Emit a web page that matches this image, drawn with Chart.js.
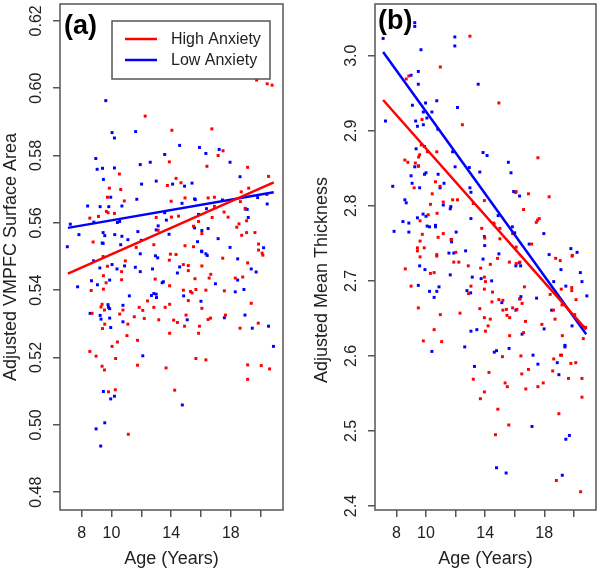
<!DOCTYPE html>
<html>
<head>
<meta charset="utf-8">
<script src="https://cdn.jsdelivr.net/npm/chart.js@4.4.1/dist/chart.umd.min.js"></script>
<style>
  body { margin: 0; background: #fff; }
  .panel { position: absolute; top: 0; width: 300px; height: 573px; }
</style>
</head>
<body>
<div class="panel" style="left:0"><canvas id="chA" width="300" height="573"></canvas></div>
<div class="panel" style="left:300px"><canvas id="chB" width="300" height="573"></canvas></div>
<script>
// axis ticks
var ageTicks = [8, 10, 12, 14, 16, 18, 20];
var ageLabels = [8, 10, 14, 18];
var areaTicks = [0.48, 0.50, 0.52, 0.54, 0.56, 0.58, 0.60, 0.62];
var thickTicks = [2.4, 2.5, 2.6, 2.7, 2.8, 2.9, 3.0];

// (a) VMPFC surface area
var highAgeA = [19.73, 20.44, 20.77, 12.26, 14.05, 13.88, 10.53, 9.86, 10.62, 13.75,
  9.73, 10.86, 14.0, 8.55, 9.13, 9.66, 9.77, 10.2, 13.0, 8.77,
  11.66, 12.84, 13.13, 16.73, 17.15, 17.48, 16.4, 19.13, 20.53, 14.33,
  14.66, 14.93, 16.48, 16.9, 18.7, 19.2, 18.64, 18.97, 20.42, 16.9,
  17.55, 16.75, 17.82, 14.5, 14.02, 15.84, 15.5, 16.06, 18.4, 19.06,
  18.55, 18.73, 19.06, 19.62, 14.93, 15.5, 19.86, 19.86, 9.44, 10.93,
  9.73, 10.68, 9.46, 9.64, 10.68, 8.64, 9.46, 12.93, 13.9, 8.7,
  9.37, 9.3, 9.53, 10.55, 10.77, 11.86, 12.1, 12.42, 12.84, 13.6,
  13.9, 11.53, 12.2, 13.17, 9.55, 9.4, 11.1, 11.04, 11.75, 10.4,
  10.04, 8.55, 8.97, 10.28, 13.9, 9.37, 9.53, 11.75, 13.66, 9.8,
  10.26, 11.13, 13.95, 14.33, 13.88, 14.82, 15.15, 15.15, 16.06, 17.46,
  19.13, 20.1, 20.15, 15.6, 16.55, 16.66, 18.3, 18.8, 14.82, 15.3,
  15.4, 15.66, 16.33, 17.57, 15.15, 16.06, 19.37, 15.0, 14.17, 14.42,
  14.9, 15.9, 16.48, 16.64, 17.64, 18.62, 19.84, 15.84, 15.66, 16.33,
  19.13, 20.04, 20.6, 19.13, 14.24];
var highAreaA = [0.6024, 0.6013, 0.6009, 0.5917, 0.5875, 0.5781, 0.5745, 0.5703, 0.5699, 0.5711,
  0.5676, 0.5665, 0.5664, 0.5614, 0.5619, 0.5634, 0.5630, 0.5628, 0.5616, 0.5543,
  0.5527, 0.5535, 0.5578, 0.5879, 0.5800, 0.5814, 0.5768, 0.5765, 0.5738, 0.5732,
  0.5719, 0.5674, 0.5674, 0.5676, 0.5692, 0.5703, 0.5663, 0.5643, 0.5684, 0.5649,
  0.5632, 0.5616, 0.5617, 0.5620, 0.5617, 0.5604, 0.5590, 0.5568, 0.5587, 0.5606,
  0.5597, 0.5563, 0.5571, 0.5571, 0.5532, 0.5529, 0.5537, 0.5519, 0.5500, 0.5487,
  0.5471, 0.5455, 0.5443, 0.5422, 0.5431, 0.5399, 0.5403, 0.5433, 0.5413, 0.5331,
  0.5358, 0.5350, 0.5341, 0.5329, 0.5341, 0.5349, 0.5340, 0.5368, 0.5349, 0.5349,
  0.5358, 0.5321, 0.5316, 0.5312, 0.5299, 0.5286, 0.5299, 0.5265, 0.5251, 0.5246,
  0.5233, 0.5218, 0.5204, 0.5197, 0.5272, 0.5174, 0.5163, 0.5177, 0.5169, 0.5098,
  0.5104, 0.4972, 0.5507, 0.5506, 0.5489, 0.5476, 0.5473, 0.5458, 0.5472, 0.5495,
  0.5481, 0.5510, 0.5504, 0.5434, 0.5436, 0.5447, 0.5436, 0.5439, 0.5400, 0.5396,
  0.5392, 0.5402, 0.5400, 0.5398, 0.5369, 0.5346, 0.5361, 0.5326, 0.5311, 0.5304,
  0.5293, 0.5293, 0.5313, 0.5317, 0.5326, 0.5287, 0.5302, 0.5272, 0.5197, 0.5193,
  0.5178, 0.5176, 0.5166, 0.5135, 0.5103];
var lowAgeA = [9.62, 10.04, 10.2, 11.62, 8.95, 9.04, 9.4, 10.2, 11.93, 12.6,
  13.57, 9.46, 12.02, 13.0, 11.7, 9.95, 8.4, 9.24, 9.82, 10.7,
  7.24, 8.82, 10.4, 10.55, 13.57, 13.68, 7.82, 9.44, 9.55, 10.22,
  10.7, 11.1, 11.77, 13.0, 13.13, 13.86, 7.04, 9.38, 9.44, 10.62,
  12.0, 14.57, 15.9, 16.33, 17.22, 17.95, 18.62, 14.1, 14.9, 15.4,
  15.57, 15.62, 14.73, 16.37, 17.44, 18.97, 19.1, 19.8, 20.44, 19.17,
  15.84, 15.57, 16.06, 16.48, 17.15, 15.77, 17.95, 20.2, 16.04, 8.8,
  9.22, 10.04, 10.37, 10.88, 11.6, 11.93, 11.93, 12.75, 12.95, 13.1,
  7.73, 8.66, 9.06, 9.88, 11.2, 12.68, 12.84, 13.0, 13.02, 13.4,
  13.48, 9.77, 9.8, 9.88, 10.77, 8.57, 9.24, 9.3, 9.88, 10.77,
  9.95, 12.1, 9.46, 10.2, 9.95, 9.55, 8.97, 9.28, 16.06, 16.33,
  16.42, 18.46, 14.57, 14.42, 19.37, 19.7, 16.97, 18.46, 14.84, 16.0,
  18.3, 18.88, 15.08, 17.57, 18.95, 19.44, 20.53, 20.86, 14.75];
var lowAreaA = [0.5963, 0.5868, 0.5852, 0.5871, 0.5791, 0.5759, 0.5762, 0.5763, 0.5773, 0.5780,
  0.5803, 0.5729, 0.5715, 0.5724, 0.5670, 0.5676, 0.5650, 0.5648, 0.5648, 0.5650,
  0.5596, 0.5602, 0.5601, 0.5604, 0.5630, 0.5608, 0.5565, 0.5571, 0.5562, 0.5565,
  0.5560, 0.5550, 0.5574, 0.5579, 0.5591, 0.5566, 0.5529, 0.5540, 0.5539, 0.5535,
  0.5548, 0.5830, 0.5824, 0.5806, 0.5818, 0.5780, 0.5737, 0.5715, 0.5709, 0.5718,
  0.5671, 0.5669, 0.5658, 0.5642, 0.5668, 0.5641, 0.5640, 0.5675, 0.5656, 0.5616,
  0.5625, 0.5585, 0.5577, 0.5583, 0.5553, 0.5544, 0.5527, 0.5526, 0.5516, 0.5487,
  0.5466, 0.5476, 0.5463, 0.5472, 0.5468, 0.5508, 0.5455, 0.5463, 0.5502, 0.5496,
  0.5410, 0.5428, 0.5416, 0.5430, 0.5383, 0.5384, 0.5390, 0.5388, 0.5378, 0.5422,
  0.5425, 0.5357, 0.5349, 0.5345, 0.5355, 0.5331, 0.5325, 0.5314, 0.5317, 0.5306,
  0.5289, 0.5205, 0.5099, 0.5085, 0.5077, 0.5006, 0.4988, 0.4937, 0.5514, 0.5508,
  0.5503, 0.5493, 0.5469, 0.5451, 0.5463, 0.5454, 0.5419, 0.5430, 0.5383, 0.5367,
  0.5395, 0.5402, 0.5312, 0.5318, 0.5326, 0.5287, 0.5293, 0.5233, 0.5059];
// fitted lines (a), end points
var fitAgeA = [7.08, 20.88];
var highFitA = [0.5449, 0.5720];
var lowFitA = [0.5585, 0.5691];

// (b) mean thickness
var highAgeB = [12.97, 10.97, 8.66, 8.84, 9.73, 12.46, 9.68, 9.57, 9.5, 10.1,
  10.73, 8.57, 8.77, 9.28, 9.5, 9.2, 10.64, 10.95, 10.42, 11.17,
  11.8, 12.13, 13.2, 10.3, 10.15, 10.75, 9.6, 9.75, 11.17, 10.82,
  9.6, 11.73, 13.77, 9.42, 9.42, 9.88, 10.73, 12.02, 13.97, 14.93,
  17.57, 18.33, 16.93, 16.6, 16.1, 17.46, 17.55, 17.66, 13.95, 15.0,
  14.57, 15.86, 15.0, 16.1, 17.15, 19.9, 9.6, 10.73, 11.88, 12.22,
  8.6, 10.3, 10.55, 12.86, 13.7, 13.95, 14.02, 8.99, 13.04, 12.88,
  13.95, 9.48, 10.97, 12.3, 13.64, 13.95, 10.55, 14.02, 9.82, 11.06,
  13.2, 13.95, 13.68, 14.84, 15.64, 16.1, 16.35, 14.35, 14.5, 16.66,
  14.93, 15.2, 16.35, 16.5, 14.46, 15.2, 15.44, 15.86, 16.15, 15.48,
  15.66, 14.35, 14.2, 16.73, 17.84, 16.6, 15.66, 18.77, 19.08, 19.88,
  19.15, 19.86, 19.86, 20.15, 18.4, 18.62, 18.73, 19.2, 20.06, 20.62,
  20.8, 20.64, 19.22, 15.17, 16.42, 14.26, 16.48, 16.93, 18.64, 19.1,
  19.17, 19.8, 20.13, 18.57, 19.64, 20.55, 15.35, 15.5, 16.75, 17.57,
  17.93, 20.55, 14.86, 15.6, 14.7, 18.99, 18.82, 20.46];
var highThickB = [3.026, 2.985, 2.969, 2.973, 2.915, 2.908, 2.881, 2.868, 2.865, 2.872,
  2.872, 2.861, 2.858, 2.857, 2.853, 2.824, 2.832, 2.826, 2.816, 2.805,
  2.808, 2.808, 2.803, 2.802, 2.788, 2.790, 2.780, 2.762, 2.763, 2.758,
  2.753, 2.755, 2.770, 2.744, 2.740, 2.744, 2.735, 2.738, 2.757, 2.937,
  2.864, 2.812, 2.816, 2.795, 2.819, 2.778, 2.781, 2.783, 2.807, 2.770,
  2.777, 2.763, 2.756, 2.745, 2.749, 2.734, 2.732, 2.733, 2.725, 2.725,
  2.716, 2.710, 2.711, 2.720, 2.717, 2.705, 2.699, 2.693, 2.693, 2.683,
  2.689, 2.664, 2.655, 2.657, 2.663, 2.651, 2.635, 2.633, 2.620, 2.619,
  2.569, 2.552, 2.543, 2.730, 2.725, 2.723, 2.725, 2.722, 2.685, 2.692,
  2.675, 2.674, 2.676, 2.670, 2.672, 2.661, 2.662, 2.664, 2.662, 2.654,
  2.651, 2.649, 2.640, 2.646, 2.642, 2.631, 2.627, 2.730, 2.727, 2.733,
  2.689, 2.691, 2.687, 2.675, 2.682, 2.661, 2.649, 2.668, 2.655, 2.639,
  2.638, 2.623, 2.627, 2.599, 2.600, 2.578, 2.576, 2.582, 2.596, 2.601,
  2.601, 2.590, 2.591, 2.580, 2.570, 2.570, 2.564, 2.559, 2.556, 2.559,
  2.564, 2.545, 2.529, 2.508, 2.495, 2.523, 2.434, 2.419];
var lowAgeB = [9.24, 9.24, 7.1, 11.95, 11.95, 9.66, 9.48, 8.99, 9.48, 13.53,
  10.73, 9.97, 9.08, 12.13, 9.82, 10.4, 10.06, 7.26, 9.3, 9.42,
  9.82, 10.8, 11.8, 9.33, 9.9, 12.93, 13.86, 11.97, 9.24, 9.48,
  9.9, 10.0, 10.82, 8.99, 13.64, 7.75, 9.06, 9.57, 11.22, 10.95,
  12.97, 13.04, 8.57, 8.66, 11.68, 11.64, 11.17, 13.04, 8.44, 8.84,
  9.42, 9.8, 10.0, 10.08, 10.24, 10.64, 10.64, 12.04, 7.84, 8.84,
  11.7, 11.73, 11.55, 11.88, 12.68, 13.95, 13.97, 14.13, 15.57, 15.75,
  15.93, 16.06, 16.33, 14.88, 14.6, 15.84, 16.0, 17.97, 14.93, 16.98,
  18.33, 19.8, 20.22, 13.86, 9.57, 9.93, 11.64, 13.13, 13.73, 9.48,
  10.88, 10.24, 10.73, 10.55, 12.77, 13.02, 13.04, 13.44, 12.62, 10.4,
  13.28, 16.08, 16.4, 16.3, 14.44, 15.13, 16.42, 16.35, 16.08, 17.48,
  19.13, 18.64, 19.46, 20.44, 20.55, 20.88, 18.5, 17.99, 16.5, 19.88,
  19.4, 19.4, 15.62, 14.62, 14.77, 17.24, 17.57, 18.88, 18.99, 17.17,
  19.7, 19.46, 14.77, 15.42, 19.22];
var lowThickB = [3.044, 3.039, 3.023, 3.025, 3.013, 3.008, 2.979, 2.974, 2.962, 2.962,
  2.940, 2.937, 2.934, 2.931, 2.925, 2.925, 2.917, 2.913, 2.913, 2.906,
  2.908, 2.902, 2.872, 2.876, 2.879, 2.851, 2.871, 2.852, 2.852, 2.853,
  2.842, 2.844, 2.842, 2.840, 2.845, 2.826, 2.830, 2.824, 2.830, 2.824,
  2.824, 2.818, 2.808, 2.804, 2.799, 2.796, 2.801, 2.783, 2.779, 2.777,
  2.784, 2.789, 2.786, 2.773, 2.772, 2.774, 2.772, 2.765, 2.766, 2.765,
  2.755, 2.752, 2.737, 2.737, 2.740, 2.759, 2.747, 2.867, 2.858, 2.844,
  2.819, 2.818, 2.813, 2.787, 2.776, 2.772, 2.764, 2.763, 2.736, 2.749,
  2.735, 2.743, 2.738, 2.729, 2.720, 2.715, 2.708, 2.705, 2.703, 2.694,
  2.692, 2.686, 2.686, 2.678, 2.687, 2.684, 2.633, 2.635, 2.612, 2.606,
  2.586, 2.720, 2.720, 2.724, 2.700, 2.671, 2.679, 2.676, 2.661, 2.677,
  2.715, 2.699, 2.693, 2.711, 2.699, 2.680, 2.661, 2.636, 2.629, 2.640,
  2.614, 2.612, 2.610, 2.605, 2.607, 2.601, 2.589, 2.591, 2.575, 2.506,
  2.494, 2.489, 2.451, 2.444, 2.441];
var fitAgeB = [7.1, 20.84];
var highFitB = [2.941, 2.635];
var lowFitB = [3.005, 2.629];

var RED = '#ff0000', BLUE = '#0000ff', FRAME = '#555555', INK = '#222222';
var FONT = '"Liberation Sans", Arial, sans-serif';

Chart.defaults.font.family = FONT;
Chart.defaults.color = INK;

function pairs(xs, ys) {
  return xs.map(function (x, i) { return { x: x, y: ys[i] }; });
}

// box round the plot, panel letter, legend, extra title
var panelDecor = {
  id: 'panelDecor',
  afterDraw: function (chart, args, opts) {
    var ctx = chart.ctx, a = chart.chartArea;
    ctx.save();
    ctx.strokeStyle = FRAME;
    ctx.lineWidth = 1.5;
    ctx.strokeRect(a.left, a.top, a.right - a.left, a.bottom - a.top);

    ctx.fillStyle = '#000';
    ctx.font = 'bold 27px ' + FONT;
    ctx.textAlign = 'left';
    ctx.textBaseline = 'alphabetic';
    ctx.fillText(opts.label, a.left + opts.labelDx, a.top + opts.labelDy);

    if (opts.legend) {
      var lx = a.left + 52, ly = a.top + 17;
      ctx.fillStyle = '#fff';
      ctx.fillRect(lx, ly, 158, 58);
      ctx.strokeStyle = FRAME;
      ctx.lineWidth = 1.5;
      ctx.strokeRect(lx, ly, 158, 58);
      ctx.font = '16px ' + FONT;
      ctx.textBaseline = 'middle';
      opts.legend.forEach(function (it, i) {
        var y = ly + 18 + i * 21;
        ctx.strokeStyle = it.color;
        ctx.lineWidth = 2.5;
        ctx.beginPath();
        ctx.moveTo(lx + 13, y);
        ctx.lineTo(lx + 45, y);
        ctx.stroke();
        ctx.fillStyle = INK;
        ctx.fillText(it.text, lx + 59, y + 1);
      });
    }

    if (opts.yTitle) {
      ctx.translate(opts.yTitle.x, opts.yTitle.y);
      ctx.rotate(-Math.PI / 2);
      ctx.font = '18px ' + FONT;
      ctx.fillStyle = INK;
      ctx.textAlign = 'center';
      ctx.textBaseline = 'middle';
      ctx.fillText(opts.yTitle.text, 0, 0);
    }
    ctx.restore();
  }
};

function makePanel(id, p) {
  return new Chart(document.getElementById(id), {
    type: 'scatter',
    data: {
      datasets: [
        { data: pairs(p.fitAge, p.highFit), showLine: true, borderColor: RED, borderWidth: 2.5, pointRadius: 0 },
        { data: pairs(p.fitAge, p.lowFit), showLine: true, borderColor: BLUE, borderWidth: 2.5, pointRadius: 0 },
        { data: pairs(p.highAge, p.highVal), pointStyle: 'rect', pointRadius: 2.1, borderWidth: 0, backgroundColor: RED },
        { data: pairs(p.lowAge, p.lowVal), pointStyle: 'rect', pointRadius: 2.1, borderWidth: 0, backgroundColor: BLUE }
      ]
    },
    options: {
      responsive: false,
      animation: false,
      devicePixelRatio: 1,
      events: [],
      layout: { padding: { top: 1, right: p.rightPad, left: 0, bottom: 0 } },
      plugins: {
        legend: { display: false },
        tooltip: { enabled: false },
        panelDecor: p.decor
      },
      scales: {
        x: {
          type: 'linear', min: 6.55, max: 21.5,
          afterBuildTicks: function (s) { s.ticks = ageTicks.map(function (v) { return { value: v }; }); },
          afterFit: function (s) { s.height = 63; s.paddingLeft = 0; s.paddingRight = 0; },
          ticks: {
            autoSkip: false, maxRotation: 0, padding: 7, color: INK, font: { size: 16 },
            callback: function (v) { return ageLabels.indexOf(v) >= 0 ? String(v) : ''; }
          },
          grid: { drawOnChartArea: false, tickLength: 7, color: FRAME, lineWidth: 1.5 },
          border: { display: false },
          title: { display: true, text: 'Age (Years)', color: INK, font: { size: 18 }, padding: { top: 0, bottom: 3 } }
        },
        y: {
          type: 'linear', min: p.yMin, max: p.yMax,
          afterBuildTicks: function (s) { s.ticks = p.yTicks.map(function (v) { return { value: v }; }); },
          afterFit: function (s) { s.width = p.yWidth; s.paddingTop = 0; s.paddingBottom = 0; },
          ticks: {
            autoSkip: false, minRotation: 90, maxRotation: 90, crossAlign: 'center',
            padding: p.tickPad, color: INK, font: { size: 16 },
            callback: function (v) { return v.toFixed(p.digits); }
          },
          grid: { drawOnChartArea: false, tickLength: 7, color: FRAME, lineWidth: 1.5 },
          border: { display: false },
          title: { display: !!p.yTitle, text: p.yTitle || '', color: INK, font: { size: 18 }, padding: { top: 0, bottom: 0 } }
        }
      }
    },
    plugins: [panelDecor]
  });
}

makePanel('chA', {
  highAge: highAgeA, highVal: highAreaA, lowAge: lowAgeA, lowVal: lowAreaA,
  fitAge: fitAgeA, highFit: highFitA, lowFit: lowFitA,
  yMin: 0.4747, yMax: 0.6250, yTicks: areaTicks, digits: 2,
  yWidth: 60, rightPad: 17, tickPad: 1,
  yTitle: 'Adjusted VMPFC Surface Area',
  decor: {
    label: '(a)', labelDx: 4, labelDy: 30,
    legend: [{ text: 'High Anxiety', color: RED }, { text: 'Low Anxiety', color: BLUE }]
  }
});

makePanel('chB', {
  highAge: highAgeB, highVal: highThickB, lowAge: lowAgeB, lowVal: lowThickB,
  fitAge: fitAgeB, highFit: highFitB, lowFit: lowFitB,
  yMin: 2.3947, yMax: 3.0689, yTicks: thickTicks, digits: 1,
  yWidth: 75, rightPad: 2, tickPad: 5,
  decor: {
    label: '(b)', labelDx: 3, labelDy: 25,
    yTitle: { text: 'Adjusted Mean Thickness', x: 22, y: 280 }
  }
});
</script>
</body>
</html>
